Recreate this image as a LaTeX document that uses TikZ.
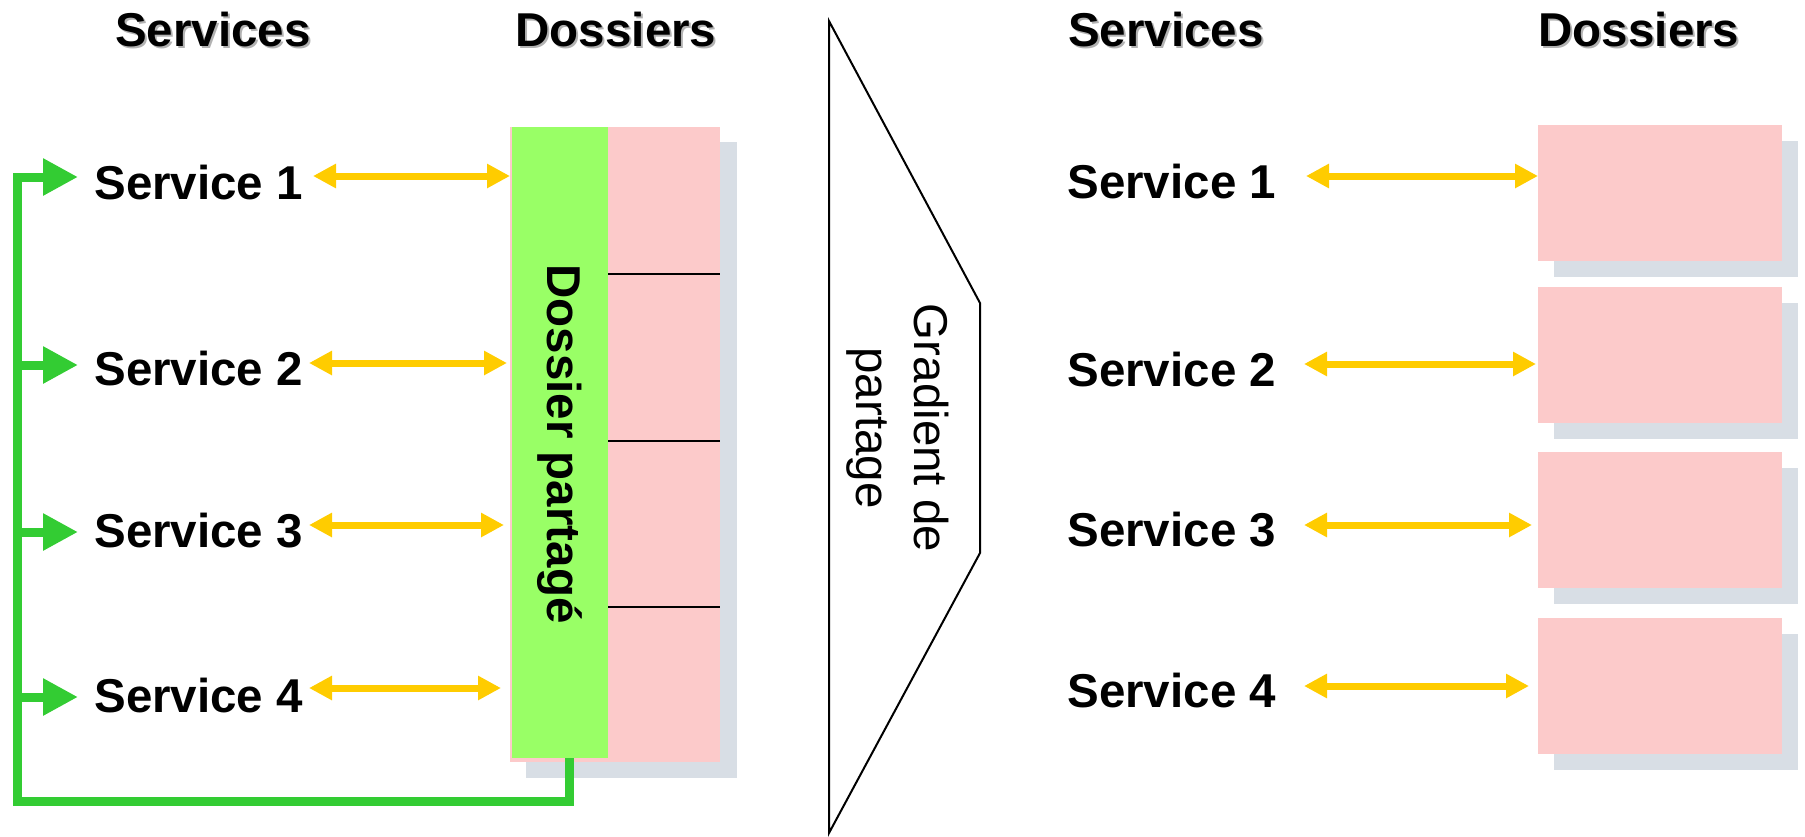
\documentclass[tikz,border=0pt]{standalone}
\usepackage{fontspec}
\setmainfont{Liberation Sans}
\usetikzlibrary{arrows.meta}
\definecolor{ygold}{HTML}{FFCC00}
\definecolor{glinec}{HTML}{33CC33}
\definecolor{gbarc}{HTML}{99FF66}
\definecolor{pinkc}{HTML}{FCCACA}
\definecolor{shadowc}{HTML}{D8DEE5}
\begin{document}
\begin{tikzpicture}[x=0.5pt,y=-0.5pt,
  lbl/.style={font=\bfseries\fontsize{23.75}{28}\selectfont, inner sep=0pt, anchor=base west},
  hdr/.style={font=\bfseries\fontsize{23.75}{28}\selectfont, inner sep=0pt, anchor=base},
  hshadow/.style={hdr, text=black!30},
  yarrow/.style={draw=ygold, line width=3.5pt, {Triangle[length=11.5pt,width=11.5pt]}-{Triangle[length=11.5pt,width=11.5pt]}},
  garrow/.style={draw=glinec, line width=4.5pt, -{Triangle[length=17.5pt,width=17.5pt]}},
  gpath/.style={draw=glinec, line width=4.5pt, line join=miter},
  rbox/.style={fill=pinkc, draw=none, inner sep=0pt, outer sep=0pt, minimum width=122pt, minimum height=68pt},
  sbox/.style={fill=shadowc, draw=none, inner sep=0pt, outer sep=0pt, minimum width=122pt, minimum height=68pt},
  divider/.style={draw=black, line width=0.8pt}
]
\useasboundingbox (0,0) rectangle (1805,836);

% headers with shadows
\node[hshadow] (hs1) at (215,48) {Services};
\node[hdr] (h1) at (213,46) {Services};
\node[hshadow] (hs2) at (618,48) {Dossiers};
\node[hdr] (h2) at (616,46) {Dossiers};
\node[hshadow] (hs3) at (1168,48) {Services};
\node[hdr] (h3) at (1166,46) {Services};
\node[hshadow] (hs4) at (1641,48) {Dossiers};
\node[hdr] (h4) at (1639,46) {Dossiers};

% left column
\node[fill=shadowc, inner sep=0pt, outer sep=0pt, minimum width=105.5pt, minimum height=318pt] (colsh) at (631.5,460) {};
\node[fill=pinkc, inner sep=0pt, outer sep=0pt, minimum width=105pt, minimum height=317.5pt] (col) at (615,444.5) {};
\node[fill=gbarc, inner sep=0pt, outer sep=0pt, minimum width=48pt, minimum height=315.5pt] (gbar) at (560,442.5) {};
\draw[divider] (608,274) -- (720,274);
\draw[divider] (608,441) -- (720,441);
\draw[divider] (608,607) -- (720,607);
\node[font=\bfseries\fontsize{23.75}{28}\selectfont, rotate=-90, inner sep=0pt] (dp) at (560,444) {Dossier partagé};

% left services
\node[lbl] (s1) at (94,199) {Service 1};
\node[lbl] (s2) at (94,385) {Service 2};
\node[lbl] (s3) at (94,547) {Service 3};
\node[lbl] (s4) at (94,712) {Service 4};

% green feedback line
\coordinate (gb) at (569,758);
\coordinate (gc) at (17,801);
\coordinate (t1) at (78,177);
\coordinate (g2) at (17,365);
\coordinate (t2) at (78,365);
\coordinate (g3) at (17,532);
\coordinate (t3) at (78,532);
\coordinate (g4) at (17,697);
\coordinate (t4) at (78,697);
\draw[gpath, -{Triangle[length=17.5pt,width=17.5pt]}] (gb) |- (gc) |- (t1);
\draw[garrow] (g2) -- (t2);
\draw[garrow] (g3) -- (t3);
\draw[garrow] (g4) -- (t4);

% left yellow arrows
\coordinate (l1a) at (313,176); \coordinate (l1b) at (510,176);
\coordinate (l2a) at (309,363); \coordinate (l2b) at (507,363);
\coordinate (l3a) at (309,525); \coordinate (l3b) at (504,525);
\coordinate (l4a) at (309,688); \coordinate (l4b) at (501,688);
\draw[yarrow] (l1a) -- (l1b);
\draw[yarrow] (l2a) -- (l2b);
\draw[yarrow] (l3a) -- (l3b);
\draw[yarrow] (l4a) -- (l4b);

% trapezoid divider
\draw[line width=1pt, line join=miter] (829,21) -- (980,303) -- (980,553) -- (829,833) -- cycle;
\node[rotate=-90, align=center, font=\fontsize{23.75}{29}\selectfont, inner sep=0pt] (grad) at (898,428) {Gradient de\\partage};

% right boxes
\node[sbox] (ds1) at (1676,209) {};
\node[rbox] (d1) at (1660,193) {};
\node[sbox] (ds2) at (1676,371) {};
\node[rbox] (d2) at (1660,355) {};
\node[sbox] (ds3) at (1676,536) {};
\node[rbox] (d3) at (1660,520) {};
\node[sbox] (ds4) at (1676,702) {};
\node[rbox] (d4) at (1660,686) {};

% right services
\node[lbl] (rs1) at (1067,198) {Service 1};
\node[lbl] (rs2) at (1067,386) {Service 2};
\node[lbl] (rs3) at (1067,546) {Service 3};
\node[lbl] (rs4) at (1067,707) {Service 4};

% right yellow arrows
\coordinate (r1a) at (1306,176); \coordinate (r1b) at (1538,176);
\coordinate (r2a) at (1304,364); \coordinate (r2b) at (1536,364);
\coordinate (r3a) at (1304,525); \coordinate (r3b) at (1532,525);
\coordinate (r4a) at (1304,686); \coordinate (r4b) at (1529,686);
\draw[yarrow] (r1a) -- (r1b);
\draw[yarrow] (r2a) -- (r2b);
\draw[yarrow] (r3a) -- (r3b);
\draw[yarrow] (r4a) -- (r4b);
\end{tikzpicture}
\end{document}
